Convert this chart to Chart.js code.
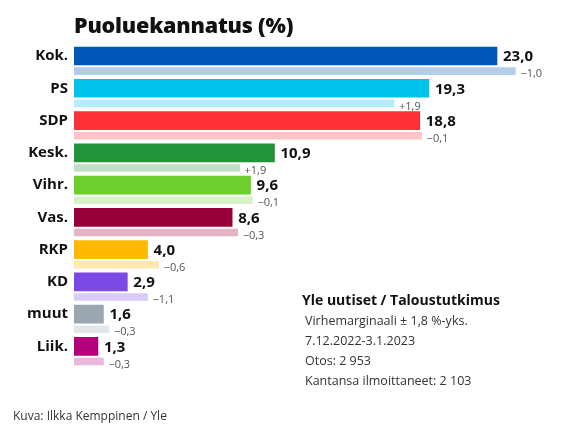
<!DOCTYPE html>
<html>
<head>
<meta charset="utf-8">
<script src="https://cdn.jsdelivr.net/npm/chart.js@4.4.1/dist/chart.umd.min.js"></script>
<style>
    body { margin: 0; background: #fff; font-family: "Open Sans", sans-serif; }
    #wrap { position: relative; width: 575px; height: 433px; overflow: hidden; }
    #chart { position: absolute; left: 0; top: 0; }
    .title { position: absolute; left: 74px; top: 11px; font-size: 21.5px; line-height: 28px; font-weight: 800; color: #111; letter-spacing: -0.2px; }
    .src { position: absolute; left: 302px; top: 290px; font-size: 14px; line-height: 20px; font-weight: 700; color: #111; }
    .notes { position: absolute; left: 305px; top: 311px; font-size: 12.5px; line-height: 20px; color: #333; }
    .credit { position: absolute; left: 13px; top: 406px; font-size: 12px; line-height: 20px; color: #333; }
</style>
</head>
<body>
<div id="wrap">
    <canvas id="chart" width="575" height="433"></canvas>
    <div class="title">Puoluekannatus (%)</div>
    <div class="src">Yle uutiset / Taloustutkimus</div>
    <div class="notes">
        Virhemarginaali ± 1,8 %-yks.<br>
        7.12.2022-3.1.2023<br>
        Otos: 2 953<br>
        Kantansa ilmoittaneet: 2 103
    </div>
    <div class="credit">Kuva: Ilkka Kemppinen / Yle</div>
</div>
<script>
const parties    = ['Kok.', 'PS', 'SDP', 'Kesk.', 'Vihr.', 'Vas.', 'RKP', 'KD', 'muut', 'Liik.'];
const support    = [23.0, 19.3, 18.8, 10.9, 9.6, 8.6, 4.0, 2.9, 1.6, 1.3];
const previous   = [24.0, 17.4, 18.9, 9.0, 9.7, 8.9, 4.6, 4.0, 1.9, 1.6];
const changes    = ['\u22121,0', '+1,9', '\u22120,1', '+1,9', '\u22120,1', '\u22120,3', '\u22120,6', '\u22121,1', '\u22120,3', '\u22120,3'];
const mainColors = ['#0057b8', '#00c3ec', '#ff3037', '#239339', '#6ccf2d', '#980039', '#ffb900', '#7b49e6', '#9aa7b0', '#b4007c'];
const prevColors = ['#b5cde9', '#b8ecfa', '#ffc4c6', '#bfe0c5', '#d7f2c7', '#e3b5c6', '#ffe7b0', '#dacbf8', '#e3e7ea', '#eab8dc'];

const prevOffset = 0.47;

// numbers on the bar ends
const barLabels = {
    id: 'barLabels',
    afterDatasetsDraw(chart) {
        const ctx = chart.ctx;
        ctx.save();
        ctx.textAlign = 'left';
        ctx.textBaseline = 'middle';
        chart.getDatasetMeta(0).data.forEach((bar, i) => {
            ctx.font = 'bold 15px "Open Sans"';
            ctx.fillStyle = '#111';
            ctx.fillText(support[i].toFixed(1).replace('.', ','), bar.x + 6, bar.y + 1);
        });
        chart.getDatasetMeta(1).data.forEach((bar, i) => {
            ctx.font = '11px "Open Sans"';
            ctx.fillStyle = '#555';
            ctx.fillText(changes[i], bar.x + 5, bar.y + 3);
        });
        ctx.restore();
    }
};

const ctx = document.getElementById('chart').getContext('2d');
new Chart(ctx, {
    type: 'bar',
    data: {
        datasets: [
            {
                label: 'Kannatus',
                data: support.map((v, i) => ({ x: v, y: i })),
                backgroundColor: mainColors,
                barThickness: 18,
                grouped: false
            },
            {
                label: 'Edellinen',
                data: previous.map((v, i) => ({ x: v, y: i + prevOffset })),
                backgroundColor: prevColors,
                barThickness: 7,
                grouped: false
            }
        ]
    },
    options: {
        indexAxis: 'y',
        responsive: false,
        animation: false,
        layout: { padding: { left: 0, right: 575 - 74 - 27 * 423 / 23, top: 39.9, bottom: 57.6 } },
        plugins: {
            legend: { display: false },
            tooltip: { enabled: false }
        },
        scales: {
            x: {
                type: 'linear',
                min: 0,
                max: 27,
                offset: false,
                display: false
            },
            y: {
                type: 'linear',
                reverse: true,
                offset: false,
                min: -0.5,
                max: 9.9,
                afterBuildTicks: (scale) => { scale.ticks = parties.map((p, i) => ({ value: i })); },
                afterFit: (scale) => { scale.width = 74; },
                grid: { display: false, drawTicks: false, offset: false },
                border: { display: false },
                ticks: {
                    autoSkip: false,
                    padding: 6,
                    color: '#111',
                    font: { family: 'Open Sans', size: 15, weight: 'bold' },
                    callback: (v) => parties[v]
                }
            }
        }
    },
    plugins: [barLabels]
});
</script>
</body>
</html>
